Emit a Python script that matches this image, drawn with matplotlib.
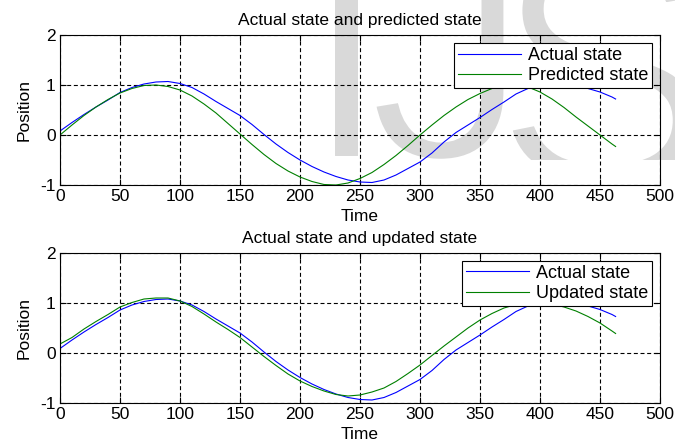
import numpy as np
import matplotlib
matplotlib.use("Agg")
import matplotlib.pyplot as plt
from matplotlib import patheffects as pe
from matplotlib.transforms import Bbox

plt.rcParams['font.family'] = ['Liberation Sans', 'DejaVu Sans']
plt.rcParams['axes.unicode_minus'] = False

time = [0, 10, 20, 30, 40, 50, 60, 70, 80, 90, 100, 110, 120, 130, 140, 150,
        160, 170, 180, 190, 200, 210, 220, 230, 240, 250, 260, 270, 280, 290,
        300, 310, 320, 330, 340, 350, 360, 370, 380, 390, 400, 410, 420, 430,
        440, 450, 460, 463]

actual = [0.08, 0.25, 0.41, 0.56, 0.70, 0.85, 0.95, 1.02, 1.06, 1.07, 1.03,
          0.95, 0.82, 0.67, 0.53, 0.39, 0.21, 0.01, -0.18, -0.35, -0.50,
          -0.63, -0.74, -0.83, -0.90, -0.94, -0.95, -0.90, -0.80, -0.67,
          -0.54, -0.36, -0.14, 0.05, 0.20, 0.35, 0.51, 0.66, 0.82, 0.93,
          0.97, 0.99, 1.00, 0.98, 0.93, 0.86, 0.76, 0.72]

predicted = [0.00, 0.20, 0.39, 0.56, 0.71, 0.84, 0.93, 0.99, 1.00, 0.97, 0.90,
             0.78, 0.62, 0.44, 0.23, 0.02, -0.19, -0.39, -0.57, -0.72, -0.84,
             -0.93, -0.99, -1.00, -0.96, -0.87, -0.75, -0.59, -0.41, -0.21,
             0.00, 0.20, 0.39, 0.56, 0.71, 0.83, 0.93, 0.99, 1.00, 0.96, 0.86,
             0.72, 0.55, 0.36, 0.18, 0.00, -0.18, -0.23]

updated = [0.17, 0.30, 0.47, 0.62, 0.76, 0.91, 1.00, 1.07, 1.09, 1.09, 1.03,
           0.92, 0.77, 0.61, 0.46, 0.30, 0.11, -0.08, -0.26, -0.43, -0.57,
           -0.68, -0.77, -0.84, -0.87, -0.85, -0.79, -0.71, -0.58, -0.42,
           -0.25, -0.06, 0.13, 0.31, 0.49, 0.65, 0.78, 0.89, 0.96, 0.99, 1.00,
           0.97, 0.91, 0.83, 0.72, 0.59, 0.43, 0.38]

xticks = [0, 50, 100, 150, 200, 250, 300, 350, 400, 450, 500]
yticks = [-1, 0, 1, 2]

fig = plt.figure(figsize=(6.75, 4.4), dpi=100)

# journal watermark in the background (cut off below y = 160 px)
clip = Bbox.from_extents(0, 440 - 160, 675, 440)
thin = [pe.Normal(), pe.Stroke(linewidth=6.5, foreground='white')]
for letter, x, base in [('I', 346, 160), ('J', 366, 160), ('S', 492, 182)]:
    t = fig.text(x / 675, 1 - base / 440, letter, fontsize=240,
                 color='#d9d9d9', va='baseline',
                 ha='center' if letter == 'I' else 'left',
                 zorder=-5, path_effects=thin)
    t.set_clip_box(clip)
    t.set_clip_on(True)

ax1 = fig.add_axes([60 / 675, 1 - 185 / 440, 600 / 675, 150 / 440])
ax2 = fig.add_axes([60 / 675, 1 - 402.5 / 440, 600 / 675, 150 / 440])


def style_axes(ax, title, second, second_label):
    ax.set_facecolor('none')
    ax.plot(time, actual, color='#0000ff', lw=0.8, label='Actual state')
    ax.plot(time, second, color='#008000', lw=0.8, label=second_label)
    ax.set_xlim(0, 500)
    ax.set_ylim(-1, 2)
    ax.set_xticks(xticks)
    ax.set_yticks(yticks)
    ax.tick_params(direction='in', top=True, right=True, length=4,
                   width=0.8, labelsize=12.5, pad=3)
    ax.grid(True, color='black', linestyle=(0, (3.6, 2.4)), linewidth=0.8)
    for s in ax.spines.values():
        s.set_linewidth(0.8)
    ax.set_title(title, fontsize=12.5, pad=7)
    ax.set_xlabel('Time', fontsize=12.5, labelpad=3.5)
    ax.set_ylabel('Position', fontsize=12.5, labelpad=6)
    leg = ax.legend(loc='upper right', fontsize=13, fancybox=False,
                    framealpha=1, edgecolor='black', handlelength=3.5,
                    handletextpad=0.35, borderaxespad=0.45, labelspacing=0.18,
                    borderpad=0.22)
    leg.get_frame().set_linewidth(0.8)


style_axes(ax1, 'Actual state and predicted state', predicted, 'Predicted state')
style_axes(ax2, 'Actual state and updated state', updated, 'Updated state')

fig.savefig('out.png', dpi=100)
